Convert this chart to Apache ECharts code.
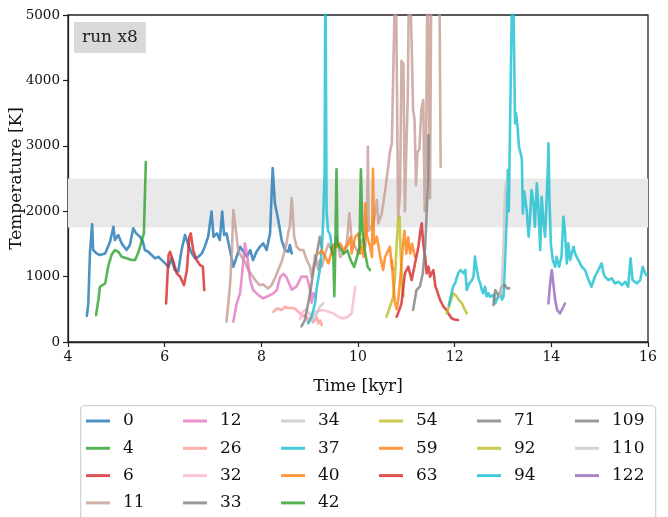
<!DOCTYPE html>
<html>
<head>
<meta charset="utf-8">
<script src="https://cdn.jsdelivr.net/npm/echarts@6/dist/echarts.min.js"></script>
<style>
  html, body { margin: 0; padding: 0; background: #fff; }
  #chart { width: 668px; height: 517px; }
</style>
</head>
<body>
<div id="chart"></div>
<script>
// Temperature histories of individual runs: [time in kyr, temperature in K]
const run0 = [[4.39,400],[4.42,590],[4.455,1380],[4.50,1800],[4.52,1406],[4.59,1355],[4.66,1330],[4.77,1355],[4.87,1534],[4.94,1763],[4.97,1559],[5.04,1636],[5.11,1508],[5.21,1406],[5.28,1483],[5.35,1738],[5.41,1661],[5.49,1610],[5.55,1534],[5.59,1406],[5.66,1380],[5.73,1330],[5.80,1279],[5.87,1304],[5.94,1253],[6.01,1202],[6.08,1151],[6.14,1279],[6.21,1100],[6.28,1075],[6.35,1406],[6.42,1636],[6.49,1483],[6.56,1355],[6.63,1279],[6.70,1304],[6.77,1355],[6.83,1457],[6.90,1610],[6.97,1993],[7.01,1610],[7.08,1661],[7.14,1559],[7.19,1993],[7.23,1636],[7.28,1661],[7.35,1406],[7.42,1151],[7.49,1304],[7.56,1457],[7.63,1380],[7.70,1304],[7.77,1406],[7.83,1253],[7.90,1380],[7.97,1457],[8.04,1508],[8.11,1406],[8.18,1661],[8.235,2660],[8.28,2120],[8.35,1865],[8.42,1559],[8.49,1406],[8.56,1380],[8.59,1483],[8.63,1355]];
const run4 = [[4.58,411],[4.63,650],[4.66,845],[4.70,870],[4.77,896],[4.83,1151],[4.90,1330],[4.97,1406],[5.04,1380],[5.11,1304],[5.21,1279],[5.32,1253],[5.39,1253],[5.46,1380],[5.52,1534],[5.57,1661],[5.61,2750]];
const run6 = [[6.03,590],[6.08,1330],[6.11,1380],[6.18,1228],[6.25,1049],[6.32,998],[6.40,870],[6.46,1100],[6.51,1610],[6.54,1661],[6.59,1406],[6.66,1253],[6.73,1177],[6.79,1151],[6.82,794]];
const run11 = [[7.28,310],[7.35,845],[7.39,1355],[7.42,2018],[7.46,1993],[7.49,1610],[7.52,1406],[7.59,1304],[7.66,1228],[7.73,1100],[7.80,1024],[7.90,921],[7.97,870],[8.04,880],[8.08,896],[8.14,819],[8.21,870],[8.28,972],[8.35,1100],[8.42,1228],[8.49,1406],[8.52,1508],[8.56,1687],[8.59,1763],[8.63,2200],[8.66,2222],[8.68,1610],[8.73,1457],[8.80,1406],[8.87,1406],[8.94,1253],[9.01,1150],[9.04,1000],[9.08,1150],[9.11,1330],[9.15,1200],[9.18,1100],[9.21,1253],[9.25,1150],[9.32,1356],[9.39,1500],[9.42,1457],[9.49,1350],[9.56,1610],[9.63,1300],[9.70,1356],[9.77,1520],[9.82,1967],[9.87,1559],[9.94,1458],[10.01,1356],[10.08,1559],[10.15,1458],[10.19,2000],[10.205,2990],[10.22,1700],[10.32,1814],[10.39,2171],[10.42,1814],[10.49,1967],[10.56,2300],[10.62,2650],[10.66,2900],[10.70,3040],[10.74,4500],[10.78,6000],[10.81,6000],[10.83,1900],[10.87,2300],[10.90,4300],[10.94,4250],[10.97,2000],[11.00,2950],[11.03,3750],[11.06,6000],[11.09,6000],[11.11,4560],[11.14,3550],[11.17,3400],[11.20,2400],[11.23,2900],[11.27,2950],[11.31,3550],[11.35,3700],[11.38,2000],[11.41,3000],[11.44,6000],[11.47,6000],[11.49,2200],[11.52,6000],[11.68,6000],[11.71,2680]];
const run12 = [[7.42,309],[7.49,590],[7.56,743],[7.61,1100],[7.66,1508],[7.70,1355],[7.77,947],[7.83,794],[7.94,717],[8.04,667],[8.11,692],[8.18,717],[8.25,743],[8.32,794],[8.39,998],[8.46,1040],[8.52,990],[8.63,800],[8.73,850],[8.83,1000],[8.94,1000],[9.01,800],[9.04,600],[9.08,750],[9.11,700]];
const run26 = [[8.25,462],[8.30,500],[8.35,513],[8.42,490],[8.49,539],[8.55,520],[8.59,490],[8.65,520],[8.70,510],[8.75,470],[8.80,440],[8.87,390],[8.92,420],[8.97,310],[9.02,380],[9.07,300],[9.11,340],[9.15,380],[9.18,284],[9.22,330],[9.25,259]];
const run32 = [[8.80,350],[8.85,460],[8.92,500],[9.00,430],[9.05,380],[9.12,470],[9.20,480],[9.28,488],[9.39,462],[9.49,437],[9.59,386],[9.70,360],[9.80,390],[9.87,440],[9.94,845]];
const run33 = [[8.83,240],[8.90,336],[8.97,591],[9.03,846],[9.08,1101],[9.15,1356],[9.21,1610],[9.25,1458]];
const run34 = [[9.08,335],[9.15,437],[9.21,539],[9.28,590]];
const run37 = [[8.97,284],[9.04,386],[9.11,590],[9.15,845],[9.21,1100],[9.25,1406],[9.28,1865],[9.31,2630],[9.325,6000],[9.335,6000],[9.35,2000],[9.38,1700],[9.42,1650],[9.46,1450],[9.49,1480]];
const run40 = [[9.20,1355],[9.25,1406],[9.32,1304],[9.39,1202],[9.46,1406],[9.52,1500],[9.56,1457],[9.63,1508],[9.70,1406],[9.77,1457],[9.84,1600],[9.87,1355],[9.94,1610],[10.01,1661],[10.05,1350],[10.08,1457],[10.12,1300],[10.15,2120],[10.18,1636],[10.25,1457],[10.29,1300],[10.31,2650],[10.33,1500],[10.39,1610],[10.46,1304],[10.52,1100],[10.56,1300],[10.59,1304],[10.66,1457],[10.70,1150],[10.73,1100]];
const run42 = [[9.45,1450],[9.49,1300],[9.51,700],[9.53,1400],[9.555,2640],[9.575,1500],[9.62,1450],[9.70,1350],[9.78,1400],[9.85,1250],[9.92,1150],[9.98,1300],[10.03,1450],[10.06,2640],[10.09,1700],[10.14,1400],[10.20,1150],[10.25,1100]];
const run54 = [[10.59,386],[10.66,539],[10.73,692],[10.77,1050],[10.80,1500],[10.83,1865],[10.86,1916],[10.88,1400],[10.91,900],[10.94,700]];
const run59 = [[10.70,1250],[10.73,900],[10.76,620],[10.80,500],[10.84,700],[10.88,1000],[10.92,1400],[10.96,1700],[11.00,1350],[11.04,1600],[11.08,1350],[11.12,1500],[11.18,1300]];
const run63 = [[10.80,386],[10.85,480],[10.90,590],[10.97,1049],[11.04,1151],[11.11,947],[11.18,1202],[11.25,1457],[11.29,1700],[11.32,1814],[11.35,1500],[11.39,1300],[11.42,1050],[11.46,1152],[11.49,998],[11.56,1100],[11.60,850],[11.63,794],[11.70,641],[11.77,539],[11.82,500],[11.87,437],[11.94,360],[12.00,345],[12.07,335]];
const run71 = [[11.14,489],[11.21,795],[11.28,846],[11.34,1050],[11.39,1458],[11.42,1967],[11.45,2477],[11.46,3160]];
const run92 = [[11.84,437],[11.90,590],[11.97,743],[12.04,700],[12.09,640],[12.15,590],[12.20,510],[12.25,437]];
const run94 = [[11.88,560],[11.92,700],[11.97,850],[12.01,900],[12.05,1000],[12.08,1060],[12.12,1100],[12.15,1126],[12.19,1050],[12.22,1100],[12.25,795],[12.29,880],[12.32,896],[12.36,950],[12.39,998],[12.42,1305],[12.46,1100],[12.50,950],[12.53,896],[12.56,800],[12.59,744],[12.63,846],[12.66,700],[12.70,744],[12.73,690],[12.77,667],[12.80,720],[12.84,590],[12.87,642],[12.90,700],[12.94,744],[12.98,650],[13.01,693],[13.04,1203],[13.08,1967],[13.10,2630],[13.12,2000],[13.15,3500],[13.18,5000],[13.20,6000],[13.23,6000],[13.25,3340],[13.27,3500],[13.30,3300],[13.33,2985],[13.36,2900],[13.39,2800],[13.41,1967],[13.44,2300],[13.46,2273],[13.49,2018],[13.53,1610],[13.56,1916],[13.59,2324],[13.63,2120],[13.66,1763],[13.70,2426],[13.73,2120],[13.77,1406],[13.80,2222],[13.84,1814],[13.87,1610],[13.90,2120],[13.93,2700],[13.94,3040],[13.96,2200],[13.99,1500],[14.03,1253],[14.08,1151],[14.11,1304],[14.16,1151],[14.21,1304],[14.25,1916],[14.28,1712],[14.32,1202],[14.35,1508],[14.39,1253],[14.42,1350],[14.46,1457],[14.49,1355],[14.56,1253],[14.63,1151],[14.70,1100],[14.77,947],[14.83,845],[14.90,998],[14.97,1100],[15.04,1202],[15.08,1050],[15.11,998],[15.18,947],[15.25,972],[15.32,896],[15.39,921],[15.46,870],[15.53,921],[15.59,845],[15.64,1279],[15.68,947],[15.77,896],[15.84,947],[15.89,1151],[15.94,1049],[15.97,1024]];
const run109 = [[12.80,565],[12.84,794],[12.87,820],[12.92,692],[12.97,845],[13.04,870],[13.08,820],[13.13,820]];
const run110 = [[12.93,700],[12.97,800],[13.01,1458],[13.04,2273],[13.07,2450]];
const run122 = [[13.94,590],[13.97,850],[13.99,998],[14.01,1100],[14.04,896],[14.08,641],[14.12,488],[14.18,437],[14.25,539],[14.28,590]];

// Shaded temperature window [K]
const bandLow = 1750;
const bandHigh = 2500;

// Axis ranges and tick steps
const timeTicks = { min: 4, max: 16, step: 2 };
const tempTicks = { min: 0, max: 5000, step: 1000 };

const runs = [
  { name: '0',   data: run0,   color: 'rgba(31,119,180,0.8)' },
  { name: '4',   data: run4,   color: 'rgba(44,160,44,0.8)' },
  { name: '6',   data: run6,   color: 'rgba(214,39,40,0.8)' },
  { name: '11',  data: run11,  color: 'rgba(196,156,148,0.8)' },
  { name: '12',  data: run12,  color: 'rgba(227,119,194,0.8)' },
  { name: '26',  data: run26,  color: 'rgba(255,152,150,0.8)' },
  { name: '32',  data: run32,  color: 'rgba(247,182,210,0.8)' },
  { name: '33',  data: run33,  color: 'rgba(127,127,127,0.8)' },
  { name: '34',  data: run34,  color: 'rgba(199,199,199,0.8)' },
  { name: '37',  data: run37,  color: 'rgba(23,190,207,0.8)' },
  { name: '40',  data: run40,  color: 'rgba(255,127,14,0.8)' },
  { name: '42',  data: run42,  color: 'rgba(44,160,44,0.8)' },
  { name: '54',  data: run54,  color: 'rgba(188,189,34,0.8)' },
  { name: '59',  data: run59,  color: 'rgba(255,127,14,0.8)' },
  { name: '63',  data: run63,  color: 'rgba(214,39,40,0.8)' },
  { name: '71',  data: run71,  color: 'rgba(127,127,127,0.8)' },
  { name: '92',  data: run92,  color: 'rgba(188,189,34,0.8)' },
  { name: '94',  data: run94,  color: 'rgba(23,190,207,0.8)' },
  { name: '109', data: run109, color: 'rgba(127,127,127,0.8)' },
  { name: '110', data: run110, color: 'rgba(199,199,199,0.8)' },
  { name: '122', data: run122, color: 'rgba(148,103,189,0.8)' }
];

const legendColumns = [
  ['0', '4', '6', '11'],
  ['12', '26', '32', '33'],
  ['34', '37', '40', '42'],
  ['54', '59', '63'],
  ['71', '92', '94'],
  ['109', '110', '122']
];
const legendX = [86, 183, 281, 379, 477, 575];

const FONT = 'DejaVu Serif';

const series = [{
  name: 'band',
  type: 'line',
  data: [],
  silent: true,
  z: 1,
  markArea: {
    silent: true,
    itemStyle: { color: '#e9e9e9' },
    data: [[{ yAxis: bandLow }, { yAxis: bandHigh }]]
  }
}].concat(runs.map(r => ({
  name: r.name,
  type: 'line',
  data: r.data,
  color: r.color,
  showSymbol: false,
  symbol: 'none',
  clip: true,
  z: 2,
  lineStyle: { width: 2.6, color: r.color, join: 'round', cap: 'round' },
  emphasis: { disabled: true }
})));

const legends = legendColumns.map((col, i) => ({
  orient: 'vertical',
  left: legendX[i],
  top: 411,
  height: 104,
  padding: 0,
  itemWidth: 24,
  itemHeight: 3,
  itemGap: 7.3,
  icon: 'rect',
  selectedMode: false,
  data: col,
  textStyle: { fontFamily: FONT, fontSize: 17, color: '#111', lineHeight: 20, padding: [0, 0, 0, 8] }
}));

const chart = echarts.init(document.getElementById('chart'), null, { renderer: 'canvas' });
chart.setOption({
  animation: false,
  backgroundColor: '#fff',
  title: {
    text: 'run x8',
    left: 74,
    top: 22,
    padding: [7, 8, 7, 8],
    backgroundColor: '#d9d9d9',
    textStyle: { fontFamily: FONT, fontSize: 17, fontWeight: 'normal', color: '#222' }
  },
  grid: {
    left: 68, top: 15, width: 580, height: 327,
    containLabel: false,
    outerBoundsMode: 'none',
    show: true, borderColor: '#222', borderWidth: 1.3, backgroundColor: 'transparent'
  },
  xAxis: {
    type: 'value',
    min: timeTicks.min, max: timeTicks.max, interval: timeTicks.step,
    name: 'Time [kyr]', nameLocation: 'middle', nameGap: 36,
    nameMoveOverlap: false,
    nameTextStyle: { fontFamily: FONT, fontSize: 17, color: '#111' },
    axisLine: { lineStyle: { color: '#222', width: 1.3 } },
    axisTick: { inside: false, length: 5, lineStyle: { color: '#222', width: 1.2 } },
    axisLabel: { fontFamily: FONT, fontSize: 14, color: '#111', margin: 8, formatter: v => String(v) },
    splitLine: { show: false }
  },
  yAxis: {
    type: 'value',
    min: tempTicks.min, max: tempTicks.max, interval: tempTicks.step,
    name: 'Temperature [K]', nameLocation: 'middle', nameGap: 43, nameRotate: 90,
    nameMoveOverlap: false,
    nameTextStyle: { fontFamily: FONT, fontSize: 17, color: '#111' },
    axisLine: { show: true, lineStyle: { color: '#222', width: 1.3 } },
    axisTick: { show: true, inside: false, length: 5, lineStyle: { color: '#222', width: 1.2 } },
    axisLabel: { fontFamily: FONT, fontSize: 13.5, color: '#111', margin: 8, formatter: v => String(v) },
    splitLine: { show: false }
  },
  legend: legends,
  graphic: [{
    type: 'rect',
    left: 80, top: 405,
    shape: { width: 575, height: 140, r: 4 },
    style: { fill: '#fff', stroke: '#d4d4d4', lineWidth: 1.3 },
    z: -1
  }],
  series: series
});
</script>
</body>
</html>
